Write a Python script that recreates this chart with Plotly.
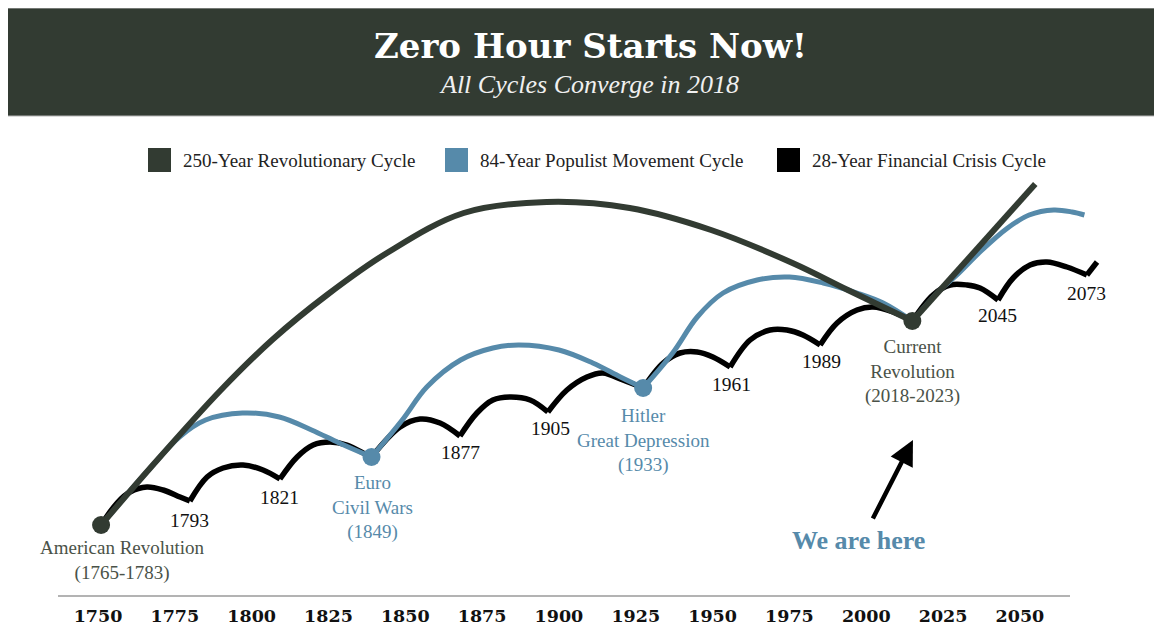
import plotly.graph_objects as go

# the page puts the figure 8px in from the top-left corner of the window
OFF = 8
W, H = 1162 - OFF, 624 - OFF
L, R, T, B = 32, 40, 112, 24

GREEN = "#323b32"
BLUE = "#568aaa"
BLACK = "#000000"
SERIF = "Liberation Serif, Times New Roman, serif"
SLAB = "DejaVu Serif, serif"

# 250-year revolutionary cycle (arc, then the new upswing)
revolution_years = [1751, 1767, 1790, 1807, 1824.5, 1844, 1869, 1896, 1923, 1949.5, 1976, 1994, 2015]
revolution_values = [75, 132, 210, 261, 305, 347, 387, 398, 392, 370, 337, 310, 279]
revolution_next_years = [2015, 2055]
revolution_next_values = [279, 416]

# 84-year populist movement cycle, one arc per cycle
populist_years = [
    [1751, 1767, 1776.5, 1785, 1797, 1809, 1819.5, 1828.5, 1839],
    [1839, 1849, 1857, 1868, 1878.5, 1887, 1900, 1911, 1920, 1927.4],
    [1927.4, 1937, 1945, 1953.4, 1964.5, 1975, 1986, 1997, 2005.5, 2015],
    [2015, 2024, 2029.5, 2037, 2046, 2053, 2061, 2067, 2071],
]
populist_values = [
    [75, 132, 163, 180, 187, 183, 170, 157, 143],
    [143, 180, 213, 240, 252, 255, 250, 237, 223, 212],
    [212, 247, 283, 307, 320, 323, 317, 307, 297, 279],
    [279, 310, 325, 348, 372, 385, 390, 388, 385],
]

# 28-year financial crisis cycle, one arc per cycle
crisis_years = [
    [1751, 1756.2, 1760.4, 1765.9, 1771.2, 1776.7, 1779.9],
    [1779.9, 1785.5, 1790.7, 1797.2, 1803.7, 1809.2],
    [1809.2, 1814.8, 1820, 1825.5, 1831, 1837.5, 1839],
    [1839, 1848.3, 1854.8, 1861.3, 1867.8],
    [1867.8, 1873.3, 1878.5, 1884, 1890.6, 1896.4],
    [1896.4, 1902.6, 1909.1, 1914.3, 1920.8, 1927.4],
    [1927.4, 1933.9, 1939.4, 1945, 1950.1, 1955.7],
    [1955.7, 1962.2, 1968.7, 1974.2, 1979.4, 1985],
    [1985, 1990.5, 1997, 2002.2, 2008.7, 2015],
    [2015, 2021.7, 2027.3, 2032.8, 2037, 2042.9],
    [2042.9, 2047.8, 2053.3, 2058.8, 2065.3, 2071.8],
    [2071.8, 2075.1],
]
crisis_values = [
    [75, 97, 108, 113, 110, 103, 99],
    [99, 123, 132, 135, 130, 121],
    [121, 143, 155, 158, 155, 145, 143],
    [143, 173, 181, 177, 164],
    [164, 187, 200, 203, 200, 188],
    [188, 210, 223, 227, 220, 212],
    [212, 237, 247, 248, 243, 233],
    [233, 260, 270, 270, 265, 255],
    [255, 277, 290, 293, 288, 279],
    [279, 305, 315, 315, 312, 300],
    [300, 322, 335, 338, 333, 325],
    [325, 338],
]

crisis_labels = ["1793", "1821", "1877", "1905", "1961", "1989", "2045", "2073"]
crisis_label_x = [1779.9, 1809.2, 1867.8, 1897.4, 1956, 1985.3, 2042.6, 2071.8]
crisis_label_y = [80, 103, 148, 172, 216, 239, 285, 307]

node_years = [1751, 1839, 1927.4, 2015]
node_values = [75, 143, 212, 279]
node_colors = [GREEN, BLUE, BLUE, GREEN]

tick_years = [1750, 1775, 1800, 1825, 1850, 1875, 1900, 1925, 1950, 1975, 2000, 2025, 2050]


def paper_x(s):
    # screen pixel -> paper fraction
    return (s - OFF - L) / (W - L - R)


def paper_y(s):
    return (H - B - (s - OFF)) / (H - T - B)


def screen_year(s):
    return 1750 + (s - 98) / 3.073


fig = go.Figure()

for xs, ys in zip(crisis_years, crisis_values):
    fig.add_trace(go.Scatter(x=xs, y=ys, mode="lines", line=dict(color=BLACK, width=5.5, shape="spline"),
                             showlegend=False, hoverinfo="skip"))

for xs, ys in zip(populist_years, populist_values):
    fig.add_trace(go.Scatter(x=xs, y=ys, mode="lines", line=dict(color=BLUE, width=5, shape="spline"),
                             showlegend=False, hoverinfo="skip"))

fig.add_trace(go.Scatter(x=revolution_years, y=revolution_values, mode="lines",
                         line=dict(color=GREEN, width=6, shape="spline"), showlegend=False, hoverinfo="skip"))
fig.add_trace(go.Scatter(x=revolution_next_years, y=revolution_next_values, mode="lines",
                         line=dict(color=GREEN, width=6), showlegend=False, hoverinfo="skip"))

fig.add_trace(go.Scatter(x=node_years, y=node_values, mode="markers",
                         marker=dict(color=node_colors, size=18, line=dict(width=0)),
                         showlegend=False, hoverinfo="skip", cliponaxis=False))

shapes = [
    # header banner
    dict(type="rect", xref="paper", yref="paper", x0=paper_x(5), x1=paper_x(1175),
         y0=paper_y(116), y1=paper_y(8), fillcolor=GREEN, line=dict(color="#b5b5b5", width=1), layer="below"),
    # baseline
    dict(type="line", xref="paper", yref="paper", x0=paper_x(58), x1=paper_x(1070),
         y0=paper_y(596), y1=paper_y(596), line=dict(color="#9a9a9a", width=1.5)),
]

annotations = [
    dict(text="<b>Zero Hour Starts Now!</b>", x=paper_x(590), y=paper_y(46), xref="paper", yref="paper",
         yanchor="middle", showarrow=False, font=dict(family=SLAB, size=34, color="white")),
    dict(text="<i>All Cycles Converge in 2018</i>", x=paper_x(589), y=paper_y(84), xref="paper", yref="paper",
         yanchor="middle", showarrow=False, font=dict(family=SERIF, size=26, color="#f0f0f0")),
]

# legend
legend_items = [("250-Year Revolutionary Cycle", GREEN, 148), ("84-Year Populist Movement Cycle", BLUE, 445),
                ("28-Year Financial Crisis Cycle", BLACK, 777)]
for label, color, x0 in legend_items:
    shapes.append(dict(type="rect", xref="paper", yref="paper", x0=paper_x(x0), x1=paper_x(x0 + 23),
                       y0=paper_y(172), y1=paper_y(148), fillcolor=color, line=dict(width=0)))
    annotations.append(dict(text=label, x=paper_x(x0 + 33), y=paper_y(160), xref="paper", yref="paper",
                            xanchor="left", yanchor="middle", showarrow=False,
                            font=dict(family=SERIF, size=19, color="#222")))

for txt, xv, yv in zip(crisis_labels, crisis_label_x, crisis_label_y):
    annotations.append(dict(text=txt, x=xv, y=yv, yanchor="middle", showarrow=False,
                            font=dict(family=SERIF, size=19.5, color="#111")))

annotations += [
    dict(text="American Revolution<br>(1765-1783)", x=1758.1, y=39.5, yanchor="middle", showarrow=False,
         font=dict(family=SERIF, size=19, color="#4a5248")),
    dict(text="Euro<br>Civil Wars<br>(1849)", x=1839.2, y=93, yanchor="middle", showarrow=False,
         font=dict(family=SERIF, size=19, color=BLUE)),
    dict(text="Hitler<br>Great Depression<br>(1933)", x=1927.4, y=160, yanchor="middle", showarrow=False,
         font=dict(family=SERIF, size=19, color=BLUE)),
    dict(text="Current<br>Revolution<br>(2018-2023)", x=2015.2, y=229, yanchor="middle", showarrow=False,
         font=dict(family=SERIF, size=19, color="#4a5248")),
    dict(text="<b>We are here</b>", x=1997.6, y=60, yanchor="middle", showarrow=False,
         font=dict(family=SERIF, size=26, color=BLUE)),
    dict(text="", x=2015.2, y=160, ax=2001.9, ay=80, axref="x", ayref="y", showarrow=True,
         arrowhead=2, arrowsize=1.1, arrowwidth=4.5, arrowcolor=BLACK),
]

fig.update_layout(
    width=W,
    height=H,
    margin=dict(l=L, r=R, t=T, b=B, pad=0),
    plot_bgcolor="white",
    paper_bgcolor="white",
    shapes=shapes,
    annotations=annotations,
    showlegend=False,
)
fig.update_xaxes(range=[screen_year(40), screen_year(1122)], tickvals=tick_years,
                 ticktext=[f"<b>{t}</b>" for t in tick_years], tickfont=dict(family=SLAB, size=17.5, color="#111"),
                 showgrid=False, zeroline=False, showline=False, ticks="", automargin=False,
                 ticklabelstandoff=3)
fig.update_yaxes(range=[0, 480], visible=False, showgrid=False, zeroline=False, automargin=False)

fig.write_html("out.html")
